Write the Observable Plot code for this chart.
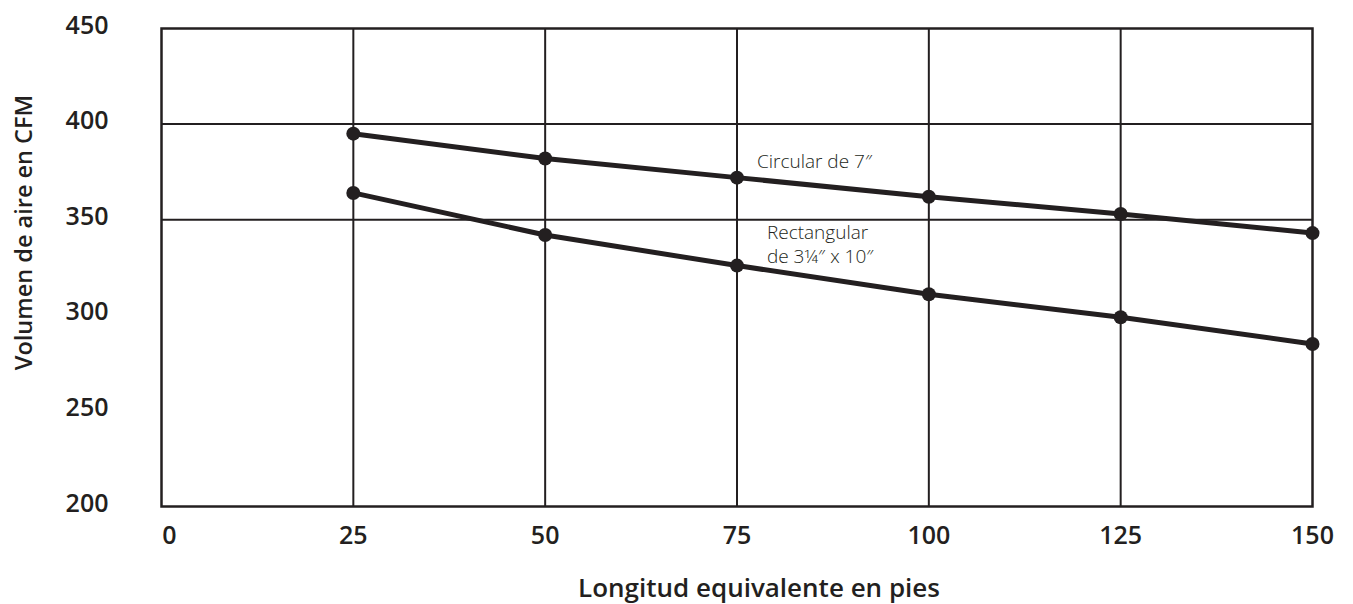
<!DOCTYPE html>
<html>
<head>
<meta charset="utf-8">
<script src="https://cdn.jsdelivr.net/npm/d3@7"></script>
<script src="https://cdn.jsdelivr.net/npm/@observablehq/plot@0.6"></script>
<style>
  html, body { margin: 0; padding: 0; background: #fff; }
  #chart svg { display: block; }
</style>
</head>
<body>
<div id="chart"></div>
<script>
// Data
const lengths = [25, 50, 75, 100, 125, 150];
const circular = [395, 382, 372, 362, 353, 343];
const rectangular = [364, 342, 326, 311, 299, 285];
const xTicksFirst = [0];
const xTicks = [25, 50, 75, 100, 125, 150];
const yTicks = [200, 250, 300, 350, 400, 450];
const xGrid = [25, 50, 75, 100, 125];
const yGrid = [350, 400];
const annotations = [
  {x: 77.6, y: 381, text: "Circular de 7″"},
  {x: 78.9, y: 337.5, text: "Rectangular\nde 3¼″ x 10″"}
];
const xLabel = "Longitud equivalente en pies";
const yLabel = "Volumen de aire en CFM";

const series = [
  ...lengths.map((x, i) => ({x, y: circular[i], s: "Circular de 7″"})),
  ...lengths.map((x, i) => ({x, y: rectangular[i], s: "Rectangular de 3¼″ x 10″"}))
];

const ink = "#231f20";
const font = "'Open Sans', Lato, sans-serif";
const chart = Plot.plot({
  width: 1353,
  height: 604,
  marginLeft: 161,
  marginRight: 41,
  marginTop: 28,
  marginBottom: 98,
  style: {fontFamily: font, color: ink, background: "#fff"},
  x: {domain: [0, 150]},
  y: {domain: [200, 450]},
  marks: [
    Plot.ruleX(xGrid, {stroke: ink, strokeWidth: 2}),
    Plot.ruleY(yGrid, {stroke: ink, strokeWidth: 2}),
    Plot.frame({stroke: ink, strokeWidth: 2.5}),
    Plot.axisX(xTicksFirst, {tickSize: 0, tickPadding: 0, dy: 20, dx: 8, fontSize: 25, fontWeight: 600, fill: ink, label: null}),
    Plot.axisX(xTicks, {tickSize: 0, tickPadding: 0, dy: 20, fontSize: 25, fontWeight: 600, fill: ink, label: null}),
    Plot.axisY(yTicks, {tickSize: 0, tickPadding: 53, dy: -3, fontSize: 25, fontWeight: 600, fill: ink, label: null}),
    Plot.text([xLabel], {frameAnchor: "bottom", lineAnchor: "middle", textAnchor: "middle", dy: 82, dx: 22, fontSize: 26, fontWeight: 600, fill: ink}),
    Plot.text([yLabel], {frameAnchor: "left", lineAnchor: "middle", textAnchor: "middle", dx: -137, dy: -35, rotate: -90, fontSize: 23.5, fontWeight: 600, fill: ink}),
    Plot.line(series, {x: "x", y: "y", z: "s", stroke: ink, strokeWidth: 5}),
    Plot.dot(series, {x: "x", y: "y", r: 7, fill: ink}),
    Plot.text(annotations, {x: "x", y: "y", text: "text", textAnchor: "start", fontSize: 19, fontWeight: 300, lineHeight: 1.25, fill: ink})
  ]
});
document.getElementById("chart").appendChild(chart);
</script>
</body>
</html>
